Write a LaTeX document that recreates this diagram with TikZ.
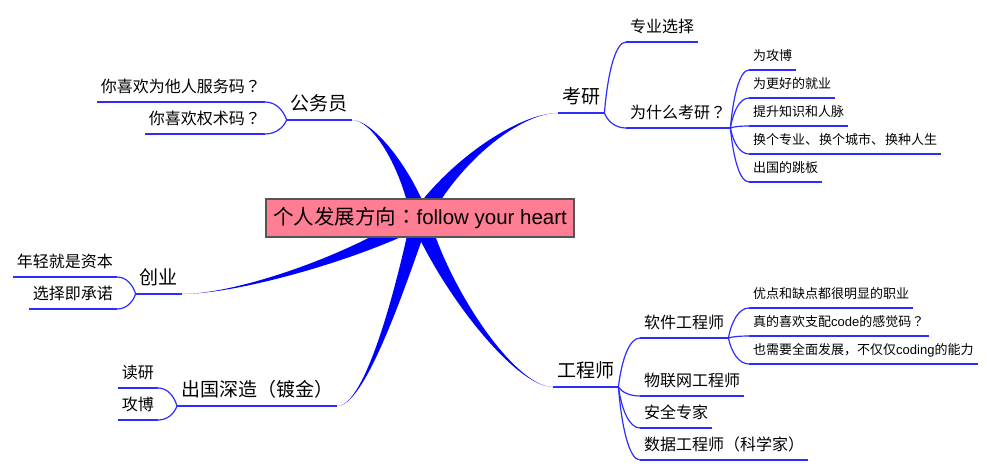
\documentclass[tikz,border=0pt]{standalone}
\usepackage{fontspec}
\setmainfont{Noto Sans CJK SC}
\newfontfamily\lat{Liberation Sans}
\newfontfamily\pnc{Noto Sans CJK TC}
\usetikzlibrary{calc}
\definecolor{lineblue}{RGB}{45,45,255}
\definecolor{brblue}{RGB}{0,0,255}
\definecolor{boxpink}{RGB}{255,126,148}
\definecolor{boxborder}{RGB}{85,85,85}
\newcommand\qm{{\pnc ？}}
\newcommand\thickbr[4]{\fill[brblue] #1 .. controls #2 and ($#3!4pt!-90:#4$) .. ($#4!9pt!90:#3$) -- ($#4!9pt!-90:#3$) .. controls ($#3!4pt!90:#4$) and #2 .. #1 -- cycle;}
\begin{document}
\begin{tikzpicture}[x=1pt,y=-1pt,
  lbl/.style={inner xsep=4pt, inner ysep=9pt, text depth=0pt},
  big/.style={lbl, font=\fontsize{19}{19}\selectfont},
  mid/.style={lbl, font=\fontsize{16}{16}\selectfont},
  small/.style={lbl, font=\fontsize{13}{13}\selectfont},
  uline/.style={draw=lineblue, line width=1.2pt},
  thinline/.style={draw=lineblue, line width=1.2pt},
  conn/.style={to path={let \p1=(\tikztostart), \p2=(\tikztotarget) in .. controls ({\x1+0.15*(\x2-\x1)},{\y1+0.55*(\y2-\y1)}) and ({0.5*(\x1+\x2)},{\y2}) .. (\tikztotarget)}}
]
\useasboundingbox (0,0) rectangle (987,470);
\coordinate (O) at (420,218);
% main topics
\node[big, anchor=south east] (gwy) at (352,120) {公务员};
\node[big, anchor=south east] (cy) at (182,294) {创业};
\node[big, anchor=south west] (cg) at (177,406) {出国深造（镀金）};
\node[big, anchor=south west] (ky) at (558,113) {考研};
\node[big, anchor=south west] (gcs) at (553,387) {工程师};
% left subtopics
\node[mid, anchor=south east] (g1) at (265,102) {你喜欢为他人服务码\qm};
\node[mid, anchor=south east] (g2) at (265,134) {你喜欢权术码\qm};
\node[mid, anchor=south east] (c1) at (117,277) {年轻就是资本};
\node[mid, anchor=south east] (c2) at (117,309) {选择即承诺};
\node[mid, anchor=south east] (d1) at (158,388) {读研};
\node[mid, anchor=south east] (d2) at (158,420) {攻博};
% right subtopics
\node[mid, anchor=south west] (k1) at (626,42) {专业选择};
\node[mid, anchor=south west] (k2) at (626,128) {为什么考研\qm};
\node[small, anchor=south west] (k21) at (749,70) {为攻博};
\node[small, anchor=south west] (k22) at (749,98) {为更好的就业};
\node[small, anchor=south west] (k23) at (749,126) {提升知识和人脉};
\node[small, anchor=south west] (k24) at (749,154) {换个专业、\kern1pt 换个城市、\kern1pt 换种人生};
\node[small, anchor=south west] (k25) at (749,182) {出国的跳板};
\node[mid, anchor=south west] (e1) at (640,338) {软件工程师};
\node[mid, anchor=south west] (e2) at (640,396) {物联网工程师};
\node[mid, anchor=south west] (e3) at (640,428) {安全专家};
\node[mid, anchor=south west] (e4) at (640,460) {数据工程师（科学家）};
\node[small, anchor=south west] (e11) at (749,308) {优点和缺点都很明显的职业};
\node[small, anchor=south west] (e12) at (749,336) {真的喜欢支配{\lat code}的感觉码\qm};
\node[small, anchor=south west] (e13) at (749,364) {也需要全面发展，不仅仅{\lat coding}的能力};
% underlines
\foreach \nm in {gwy,cy,cg,ky,gcs,g1,g2,c1,c2,d1,d2,k1,k2,k21,k22,k23,k24,k25,e1,e2,e3,e4,e11,e12,e13}
  \draw[uline] (\nm.south west) -- (\nm.south east);
% thin connectors
\draw[thinline] (gwy.south west) to[conn] (g1.south east);
\draw[thinline] (gwy.south west) to[conn] (g2.south east);
\draw[thinline] (cy.south west) to[conn] (c1.south east);
\draw[thinline] (cy.south west) to[conn] (c2.south east);
\draw[thinline] (cg.south west) to[conn] (d1.south east);
\draw[thinline] (cg.south west) to[conn] (d2.south east);
\draw[thinline] (ky.south east) to[conn] (k1.south west);
\draw[thinline] (ky.south east) to[conn] (k2.south west);
\foreach \nm in {k21,k22,k23,k24,k25}
  \draw[thinline] (k2.south east) to[conn] (\nm.south west);
\foreach \nm in {e1,e2,e3,e4}
  \draw[thinline] (gcs.south east) to[conn] (\nm.south west);
\foreach \nm in {e11,e12,e13}
  \draw[thinline] (e1.south east) to[conn] (\nm.south west);
% thick branches
\thickbr{(gwy.south east)}{(372,120)}{(405,165)}{(O)}
\thickbr{(ky.south west)}{(520,113)}{(455,160)}{(O)}
\thickbr{(cy.south east)}{(240,294)}{(360,255)}{(O)}
\thickbr{(cg.south east)}{(365,406)}{(400,290)}{(O)}
\thickbr{(gcs.south west)}{(515,387)}{(445,290)}{(O)}
% central topic
\node[draw=boxborder, fill=boxpink, line width=1.2pt, minimum width=308pt, minimum height=38pt, inner sep=0pt, font=\fontsize{20.5}{20.5}\selectfont] (root) at (O) {个人发展方向{\pnc ：}{\lat follow your heart}};
\end{tikzpicture}
\end{document}
